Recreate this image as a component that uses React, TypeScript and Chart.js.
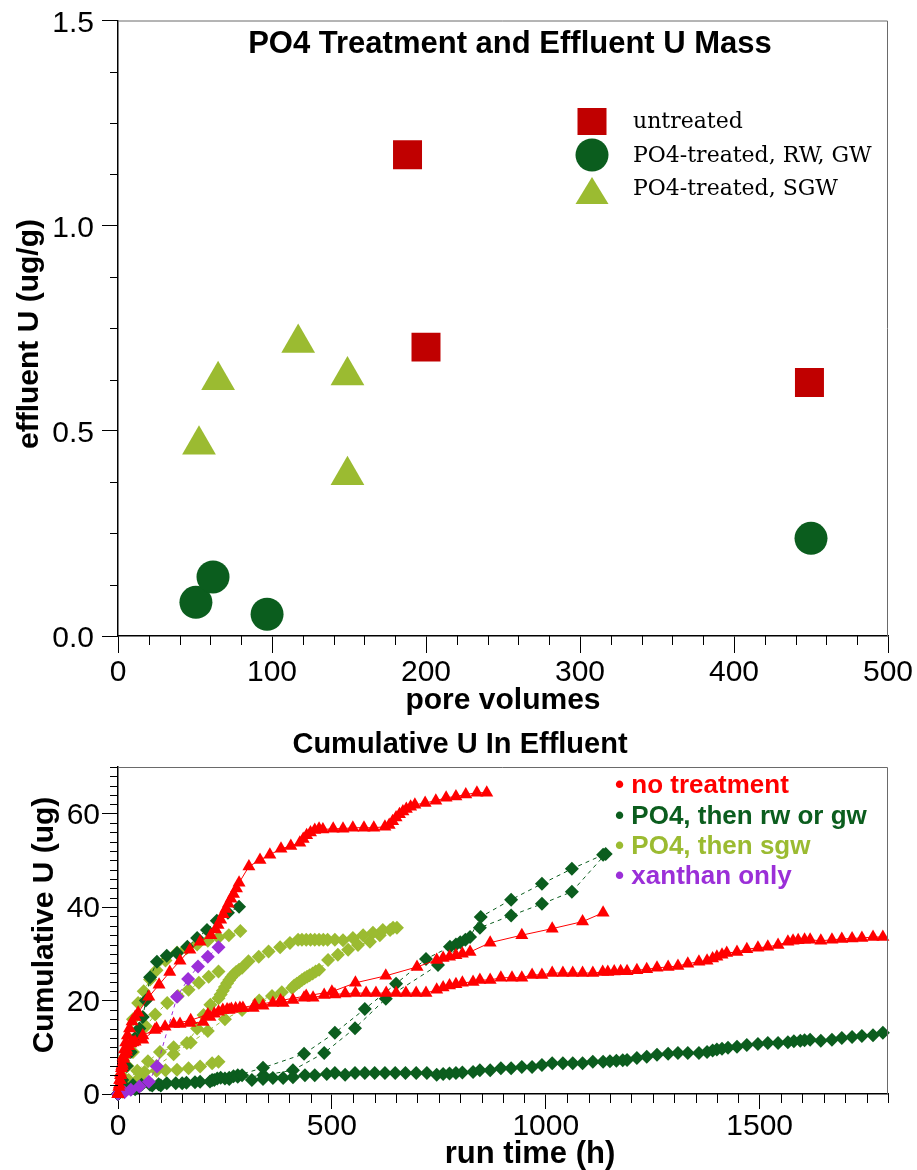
import React, { useEffect, useRef } from 'react';
import { Chart, registerables } from 'chart.js';
Chart.register(...registerables);

// ---------- Top chart: PO4 Treatment and Effluent U Mass ----------
const TOP_TITLE = 'PO4 Treatment and Effluent U Mass';
const TOP_X_TITLE = 'pore volumes';
const TOP_Y_TITLE = 'effluent U (ug/g)';
const TOP_LEGEND = ['untreated', 'PO4-treated, RW, GW', 'PO4-treated, SGW'];
const TOP_X_TICKS = [0, 100, 200, 300, 400, 500];
const TOP_Y_TICKS = [0, 0.5, 1.0, 1.5];

const untreatedPV = [188, 200, 449];
const untreatedU = [1.173, 0.704, 0.618];
const rwgwPV = [50.6, 61.7, 96.8, 450];
const rwgwU = [0.082, 0.144, 0.053, 0.238];
const sgwPV = [52.6, 65, 117, 149, 149];
const sgwU = [0.466, 0.623, 0.714, 0.635, 0.392];

// ---------- Bottom chart: Cumulative U In Effluent ----------
const BOT_TITLE = 'Cumulative U In Effluent';
const BOT_X_TITLE = 'run time (h)';
const BOT_Y_TITLE = 'Cumulative U (ug)';
const BOT_LEGEND = ['no treatment', 'PO4, then rw or gw', 'PO4, then sgw', 'xanthan only'];
const BOT_X_TICKS = [0, 500, 1000, 1500];
const BOT_Y_TICKS = [0, 20, 40, 60];

// no treatment (red triangles)
const noTreat1 = [[0,0],[3,2],[6,4],[9,6],[12,8],[15,9.5],[18,11],[22,12.5],[27,14],[33,15.5],[40,16.5],[47,17.4],[72,20.8],[96,23.4],[121,26.1],[145,28.5],[168,30.9],[192,32.6],[217,34],[228,35.2],[234,36.2],[240,37.3],[246,38.5],[252,39.6],[258,40.7],[264,41.8],[270,42.8],[277,44],[283,45.2],[306,48.7],[332,50.1],[355,51.2],[381,52.5],[404,53.1],[425,53.8],[433,54.6],[441,55.4],[450,56],[460,56.5],[470,56.8],[479,56.6],[503,56.8],[526,56.8],[549,57],[575,57],[598,57],[624,57.2],[634,57.6],[642,58.4],[650,59.2],[658,59.9],[666,60.5],[674,61],[684,61.5],[694,61.9],[718,62.3],[743,62.8],[767,63.4],[790,63.7],[813,64.1],[839,64.5],[862,64.5]];
const noTreat2 = [[0,0],[2,1.5],[4,3],[6,4.5],[8,5.5],[10,6.5],[13,7.5],[16,8.5],[20,9.5],[25,10.2],[30,10.8],[40,11.2],[58,11.6],[86,13.7],[110,14.4],[145,15],[168,15.2],[199,15.4],[215,16.5],[225,17.2],[235,17.6],[245,18],[255,18.1],[265,18.2],[275,18.3],[285,18.4],[292,18.4],[316,18.4],[339,18.9],[362,19.5],[386,19.5],[409,20.1],[435,20.6],[456,20.6],[482,21.2],[507,21.3],[531,21.5],[555,21.6],[580,21.6],[603,21.6],[627,21.6],[650,21.6],[673,21.6],[697,21.6],[720,21.6],[745,22.3],[760,22.8],[775,23.2],[790,23.5],[805,23.8],[830,24],[846,24.4],[870,24.4],[895,24.9],[921,24.9],[944,24.9],[968,25.5],[991,25.5],[1015,25.9],[1040,25.9],[1063,25.9],[1086,25.9],[1110,25.9],[1133,26.1],[1145,26.1],[1160,26.2],[1175,26.3],[1190,26.3],[1213,26.5],[1236,26.7],[1260,27],[1286,27.2],[1309,27.4],[1332,27.9],[1358,28.3],[1377,28.5],[1390,29],[1400,29.4],[1412,29.8],[1423,30.2],[1447,30.4],[1470,31],[1496,31.3],[1519,31.5],[1543,31.9],[1566,32.6],[1578,32.8],[1590,32.9],[1605,33],[1618,33],[1643,32.8],[1669,33],[1692,33.2],[1716,33.3],[1739,33.4],[1765,33.6],[1788,33.6]];
const noTreat3 = [[0,0],[5,3],[10,6],[20,9],[35,11],[58,12.5],[90,14],[130,15],[170,15.8],[210,17],[260,18],[320,19],[380,20],[440,21],[500,21.9],[555,23.8],[626,25.3],[699,27.2],[745,28.7],[760,29.1],[775,29.4],[790,29.7],[805,30],[823,30.4],[870,32.4],[944,34],[1015,35.4],[1086,36.9],[1134,38.8]];

// xanthan only (purple diamonds)
const xanthan = [[0,0],[15,0.4],[30,0.9],[50,1.6],[72,2.6],[91,5.9],[138,20.8],[164,24.6],[187,27.3],[210,29.4],[235,31.4]];

// PO4, then rw or gw (dark green diamonds)
const rwgw1 = [[0,0],[5,0.5],[10,0.8],[20,1.2],[35,1.9],[55,2],[75,2],[95,2.1],[114,2.3],[135,2.3],[160,2.4],[192,2.6],[215,2.7],[225,3],[232,3.3],[240,3.5],[250,3.3],[260,3.5],[270,3.8],[280,3.7],[290,4],[313,3],[339,3.2],[362,3.4],[386,3.4],[409,3.6],[437,4],[460,4],[488,4.3],[507,4.5],[531,4.1],[554,4.5],[577,4.5],[600,4.5],[624,4.5],[648,4.5],[672,4.5],[697,4.5],[722,4.5],[745,4.1],[760,4.3],[775,4.4],[790,4.5],[805,4.6],[830,4.7],[846,5.1],[870,5.1],[895,5.5],[919,5.5],[944,5.8],[968,5.8],[991,6.2],[1015,6.6],[1040,6.6],[1063,6.6],[1086,6.6],[1110,6.9],[1134,6.9],[1150,7],[1165,7.1],[1180,7.2],[1190,7.3],[1213,7.7],[1236,8],[1260,8.4],[1286,8.6],[1309,8.8],[1332,8.8],[1358,8.8],[1377,9],[1390,9.3],[1400,9.5],[1412,9.7],[1426,9.9],[1447,10.1],[1470,10.5],[1496,10.7],[1519,10.9],[1543,10.9],[1566,11.1],[1580,11.3],[1595,11.4],[1605,11.5],[1618,11.6],[1643,11.4],[1669,11.6],[1692,12],[1716,12.2],[1739,12.4],[1765,12.6],[1788,13.1]];
const rwgw2 = [[0,0],[10,3],[20,6],[30,9],[40,12],[50,14],[58,16.5],[65,20],[75,25],[91,28.3],[114,29.6],[138,30.2],[162,31.5],[185,33.4],[208,35.1],[231,37.1],[257,38.8],[283,40.1]];
const rwgw3 = [[0,0],[30,1],[80,1.8],[150,2.3],[220,3],[280,4],[339,5.6],[435,8.6],[507,13.1],[577,18.2],[650,23.6],[720,28.9],[776,31.5],[790,32],[800,32.5],[812,33],[823,33.6],[848,37.9],[919,41.6],[991,45],[1061,48.2],[1134,51.2]];
const rwgw4 = [[0,0],[40,1],[100,1.8],[180,2.5],[260,3.2],[340,4],[409,5.1],[482,8.8],[554,14.1],[626,20.4],[748,27.6],[846,35.6],[919,38.2],[991,40.7],[1061,43.3],[1140,51.4]];

// PO4, then sgw (light green diamonds)
const sgw1 = [[0,0],[8,4],[16,8],[25,12],[35,16],[47,19.5],[60,22],[75,24.5],[90,26.5],[111,28.6],[138,30.3],[160,31.2],[185,32],[210,32.8],[235,33.5],[259,34],[286,34.9]];
const sgw2 = [[0,0],[10,3],[22,6],[35,9],[50,12],[65,14.5],[87,17],[115,19.5],[140,21],[165,22.3],[189,23.8],[212,25.1],[235,26.2]];
const sgw3 = [[0,0],[10,1.5],[25,3],[45,5],[70,7],[98,9],[130,10],[161,10.9],[185,14],[200,16.9],[216,19.1],[235,20.5],[240,21.3],[245,22.1],[250,22.9],[255,23.7],[260,24.4],[265,25],[270,25.6],[276,26.1],[283,26.6],[290,27],[305,28.4],[329,29.4],[352,30.5],[379,31.4],[402,32.3],[421,33],[430,33],[440,33],[450,33],[460,33],[470,33],[480,33],[490,33],[507,33],[526,32.9],[549,33.4],[573,34],[596,34.5],[619,35.1],[643,35.6]];
const sgw4 = [[0,0],[20,1.5],[50,3.5],[90,6],[130,8.5],[170,11],[210,13.5],[250,16],[290,18],[330,20],[360,21],[383,21.8],[407,22.7],[412,23.2],[418,23.6],[424,24],[430,24.4],[436,24.8],[442,25.1],[448,25.4],[455,25.8],[462,26.2],[470,26.6],[491,28.7],[514,29.8],[538,30.9],[561,31.9],[589,32.6],[612,34],[636,35.1],[652,35.6]];
const sgw5 = [[0,0],[10,0.5],[25,1.2],[45,2.5],[62,4.7],[90,5],[111,5.1],[138,5.2],[165,5.5],[192,5.9],[220,6.6],[235,6.9]];

const TOP_RED = '#C00000';
const TOP_DKGREEN = '#0B5D1E';
const TOP_LTGREEN = '#9BBB31';
const RED = '#FF0000';
const DKGREEN = '#0B5D1E';
const LTGREEN = '#9BBB31';
const PURPLE = '#9B2FD8';
const SANS = '"Liberation Sans", Arial, sans-serif';
const SERIF = '"DejaVu Serif", "Liberation Serif", serif';

const toXY = (xs: number[], ys: number[]) => xs.map((x, i) => ({ x, y: ys[i] }));
const pairs = (arr: number[][]) => arr.map(([x, y]) => ({ x, y }));
const fixTicks = (vals: number[]) => (s: any) => { s.ticks = vals.map((value) => ({ value })); };

function vline(ctx: CanvasRenderingContext2D, x: number, y1: number, y2: number) {
  ctx.beginPath(); ctx.moveTo(x, y1); ctx.lineTo(x, y2); ctx.stroke();
}
function hline(ctx: CanvasRenderingContext2D, y: number, x1: number, x2: number) {
  ctx.beginPath(); ctx.moveTo(x1, y); ctx.lineTo(x2, y); ctx.stroke();
}

const topDecor = {
  id: 'topDecor',
  afterDraw(chart: any) {
    const { ctx, chartArea: a, scales } = chart;
    const xs = scales.x, ys = scales.y;
    ctx.save();
    ctx.strokeStyle = '#6a6a6a';
    ctx.lineWidth = 1;
    ctx.beginPath();
    ctx.moveTo(a.left, a.top + 0.5);
    ctx.lineTo(a.right - 0.5, a.top + 0.5);
    ctx.lineTo(a.right - 0.5, a.bottom);
    ctx.stroke();
    ctx.strokeStyle = '#000';
    for (let v = 20; v < 500; v += 20) {
      if (v % 100 === 0) continue;
      const px = Math.round(xs.getPixelForValue(v)) + 0.5;
      vline(ctx, px, a.bottom, a.bottom + 9);
    }
    for (let v = 0.125; v < 1.5; v += 0.125) {
      if (Math.abs(v * 2 - Math.round(v * 2)) < 1e-6) continue;
      const py = Math.round(ys.getPixelForValue(v)) + 0.5;
      hline(ctx, py, a.left - 8, a.left);
    }
    ctx.fillStyle = '#000';
    ctx.textAlign = 'center';
    ctx.textBaseline = 'middle';
    ctx.font = `bold 31px ${SANS}`;
    ctx.fillText(TOP_TITLE, 510, 44);
    ctx.font = `bold 30px ${SANS}`;
    ctx.fillText(TOP_X_TITLE, 503, 701);
    ctx.save();
    ctx.translate(30, 334);
    ctx.rotate(-Math.PI / 2);
    ctx.fillText(TOP_Y_TITLE, 0, 0);
    ctx.restore();
    // legend
    const lx = 592;
    ctx.fillStyle = TOP_RED;
    ctx.fillRect(lx - 14.5, 108, 29, 27);
    ctx.fillStyle = TOP_DKGREEN;
    ctx.beginPath(); ctx.arc(lx, 155, 16.5, 0, Math.PI * 2); ctx.fill();
    ctx.fillStyle = TOP_LTGREEN;
    ctx.beginPath(); ctx.moveTo(lx, 177); ctx.lineTo(lx + 16.5, 204); ctx.lineTo(lx - 16.5, 204); ctx.closePath(); ctx.fill();
    ctx.fillStyle = '#000';
    ctx.textAlign = 'left';
    ctx.font = `22px ${SERIF}`;
    ctx.fillText(TOP_LEGEND[0], 633, 122);
    ctx.fillText(TOP_LEGEND[1], 633, 156);
    ctx.fillText(TOP_LEGEND[2], 633, 189);
    ctx.restore();
  },
};

const botDecor = {
  id: 'botDecor',
  afterDraw(chart: any) {
    const { ctx, chartArea: a, scales } = chart;
    const xs = scales.x, ys = scales.y;
    ctx.save();
    ctx.strokeStyle = '#6a6a6a';
    ctx.lineWidth = 1;
    ctx.beginPath();
    ctx.moveTo(a.left, a.top + 0.5);
    ctx.lineTo(a.right - 0.5, a.top + 0.5);
    ctx.lineTo(a.right - 0.5, a.bottom);
    ctx.stroke();
    ctx.strokeStyle = '#000';
    for (let v = 50; v <= 1800; v += 50) {
      if (v % 500 === 0) continue;
      const px = Math.round(xs.getPixelForValue(v)) + 0.5;
      vline(ctx, px, a.bottom, a.bottom + 9);
    }
    for (let v = 2; v <= 70; v += 2) {
      if (v % 20 === 0) continue;
      const py = Math.round(ys.getPixelForValue(v)) + 0.5;
      hline(ctx, py, a.left - 8, a.left);
    }
    ctx.fillStyle = '#000';
    ctx.textAlign = 'center';
    ctx.textBaseline = 'middle';
    ctx.font = `bold 29px ${SANS}`;
    ctx.fillText(BOT_TITLE, 460, 25);
    ctx.font = `bold 31px ${SANS}`;
    ctx.fillText(BOT_X_TITLE, 530, 434);
    ctx.font = `bold 30px ${SANS}`;
    ctx.save();
    ctx.translate(45, 205);
    ctx.rotate(-Math.PI / 2);
    ctx.fillText(BOT_Y_TITLE, 0, 0);
    ctx.restore();
    // legend
    const cols = [RED, DKGREEN, LTGREEN, PURPLE];
    const ly = [66, 97, 127, 157];
    ctx.textAlign = 'left';
    ctx.font = `bold 26px ${SANS}`;
    BOT_LEGEND.forEach((t, i) => {
      ctx.fillStyle = cols[i];
      ctx.fillText('\u2022 ' + t, 615, ly[i]);
    });
    ctx.restore();
  },
};

function TopChart() {
  const ref = useRef<HTMLCanvasElement>(null);
  useEffect(() => {
    const chart = new Chart(ref.current!, {
      type: 'scatter',
      data: {
        datasets: [
          { label: TOP_LEGEND[0], data: toXY(untreatedPV, untreatedU), pointStyle: 'rect', pointRadius: 20.5, backgroundColor: TOP_RED, borderWidth: 0, pointBorderWidth: 0 },
          { label: TOP_LEGEND[1], data: toXY(rwgwPV, rwgwU), pointStyle: 'circle', pointRadius: 16.5, backgroundColor: TOP_DKGREEN, borderWidth: 0, pointBorderWidth: 0 },
          { label: TOP_LEGEND[2], data: toXY(sgwPV, sgwU), pointStyle: 'triangle', pointRadius: 19.5, backgroundColor: TOP_LTGREEN, borderWidth: 0, pointBorderWidth: 0 },
        ],
      } as any,
      options: {
        animation: false,
        responsive: false,
        events: [],
        layout: { padding: { top: 12, right: 29, left: 0, bottom: 0 } },
        plugins: { legend: { display: false }, tooltip: { enabled: false } },
        scales: {
          x: {
            type: 'linear', min: 0, max: 500,
            afterBuildTicks: fixTicks(TOP_X_TICKS),
            ticks: { font: { family: SANS, size: 30 }, color: '#000', padding: 2, maxRotation: 0, autoSkip: false, callback: (v: any) => String(v) },
            grid: { display: true, drawOnChartArea: false, drawTicks: true, tickLength: 17, tickColor: '#000' },
            border: { display: true, color: '#000', width: 1.5 },
            afterFit: (s: any) => { s.height = 84; s.paddingLeft = 0; s.paddingRight = 0; },
          },
          y: {
            type: 'linear', min: 0, max: 1.5,
            afterBuildTicks: fixTicks(TOP_Y_TICKS),
            ticks: { font: { family: SANS, size: 30 }, color: '#000', padding: 8, labelOffset: 3, autoSkip: false, callback: (v: any) => Number(v).toFixed(1) },
            grid: { display: true, drawOnChartArea: false, drawTicks: true, tickLength: 16, tickColor: '#000' },
            border: { display: true, color: '#000', width: 1.5 },
            afterFit: (s: any) => { s.width = 118; s.paddingTop = 0; s.paddingBottom = 0; },
          },
        },
      } as any,
      plugins: [topDecor],
    });
    return () => chart.destroy();
  }, []);
  return <canvas ref={ref} width={917} height={720} style={{ position: 'absolute', left: 0, top: 0, width: 917, height: 720 }} />;
}

function BottomChart() {
  const ref = useRef<HTMLCanvasElement>(null);
  useEffect(() => {
    const tri = (label: string, d: number[][]) => ({ label, data: pairs(d), showLine: true, borderColor: RED, borderWidth: 1, backgroundColor: RED, pointBackgroundColor: RED, pointStyle: 'triangle', pointRadius: 7.5, pointBorderWidth: 0, clip: false });
    const dia = (label: string, d: number[][], col: string) => ({ label, data: pairs(d), showLine: true, borderColor: col, borderWidth: 1, borderDash: [4, 4], backgroundColor: col, pointBackgroundColor: col, pointStyle: 'rectRot', pointRadius: 7, pointBorderWidth: 0, clip: false });
    const chart = new Chart(ref.current!, {
      type: 'scatter',
      data: {
        datasets: [
          tri(BOT_LEGEND[0], noTreat1),
          tri(BOT_LEGEND[0], noTreat2),
          tri(BOT_LEGEND[0], noTreat3),
          dia(BOT_LEGEND[3], xanthan, PURPLE),
          dia(BOT_LEGEND[1], rwgw1, DKGREEN),
          dia(BOT_LEGEND[1], rwgw2, DKGREEN),
          dia(BOT_LEGEND[1], rwgw3, DKGREEN),
          dia(BOT_LEGEND[1], rwgw4, DKGREEN),
          dia(BOT_LEGEND[2], sgw1, LTGREEN),
          dia(BOT_LEGEND[2], sgw2, LTGREEN),
          dia(BOT_LEGEND[2], sgw3, LTGREEN),
          dia(BOT_LEGEND[2], sgw4, LTGREEN),
          dia(BOT_LEGEND[2], sgw5, LTGREEN),
        ],
      } as any,
      options: {
        animation: false,
        responsive: false,
        events: [],
        layout: { padding: { top: 47, right: 29, left: 0, bottom: 0 } },
        plugins: { legend: { display: false }, tooltip: { enabled: false } },
        scales: {
          x: {
            type: 'linear', min: 0, max: 1800,
            afterBuildTicks: fixTicks(BOT_X_TICKS),
            ticks: { font: { family: SANS, size: 30 }, color: '#000', padding: 0, maxRotation: 0, autoSkip: false, callback: (v: any) => String(v) },
            grid: { display: true, drawOnChartArea: false, drawTicks: true, tickLength: 15, tickColor: '#000' },
            border: { display: true, color: '#000', width: 1.5 },
            afterFit: (s: any) => { s.height = 76; s.paddingLeft = 0; s.paddingRight = 0; },
          },
          y: {
            type: 'linear', min: 0, max: 70,
            afterBuildTicks: fixTicks(BOT_Y_TICKS),
            ticks: { font: { family: SANS, size: 30 }, color: '#000', padding: 2, labelOffset: 2, autoSkip: false, callback: (v: any) => String(v) },
            grid: { display: true, drawOnChartArea: false, drawTicks: true, tickLength: 16, tickColor: '#000' },
            border: { display: true, color: '#000', width: 1.5 },
            afterFit: (s: any) => { s.width = 118; s.paddingTop = 0; s.paddingBottom = 0; },
          },
        },
      } as any,
      plugins: [botDecor],
    });
    return () => chart.destroy();
  }, []);
  return <canvas ref={ref} width={917} height={450} style={{ position: 'absolute', left: 0, top: 720, width: 917, height: 450 }} />;
}

export default function App() {
  return (
    <div style={{ position: 'absolute', left: 0, top: 0, width: 917, height: 1170, background: '#fff', overflow: 'hidden' }}>
      <TopChart />
      <BottomChart />
    </div>
  );
}
